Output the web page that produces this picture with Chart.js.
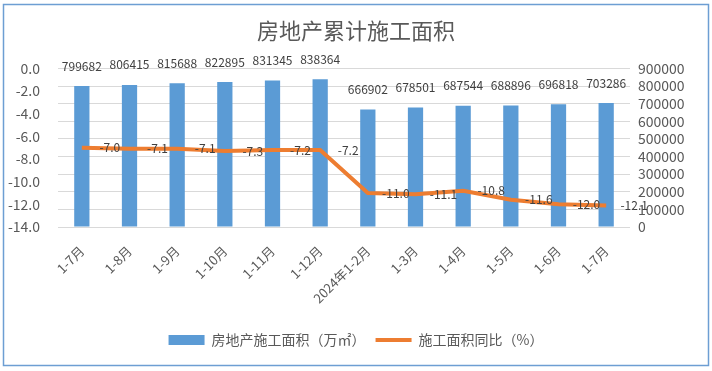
<!DOCTYPE html>
<html>
<head>
<meta charset="utf-8">
<script src="https://cdn.jsdelivr.net/npm/chart.js@4/dist/chart.umd.min.js"></script>
<style>
  html, body { margin: 0; padding: 0; background: #fff; }
  #wrap { width: 712px; height: 371px; }
</style>
</head>
<body>
<div id="wrap"><canvas id="grafico" width="712" height="371"></canvas></div>
<script>
var categorias = ["1-7月", "1-8月", "1-9月", "1-10月", "1-11月", "1-12月", "2024年1-2月", "1-3月", "1-4月", "1-5月", "1-6月", "1-7月"];
var area = [799682, 806415, 815688, 822895, 831345, 838364, 666902, 678501, 687544, 688896, 696818, 703286];
var tongbi = [-7.0, -7.1, -7.1, -7.3, -7.2, -7.2, -11.0, -11.1, -10.8, -11.6, -12.0, -12.1];
var ticksIzq = [0, -2, -4, -6, -8, -10, -12, -14];
var ticksDer = [0, 100000, 200000, 300000, 400000, 500000, 600000, 700000, 800000, 900000];

var FUENTE = "'Noto Sans CJK SC', 'Noto Sans', sans-serif";
var AZUL = "#5B9BD5";
var NARANJA = "#ED7D31";

// etiquetas de datos y borde exterior
var etiquetas = {
    id: "etiquetas",
    afterDatasetsDraw: function (chart) {
        var ctx = chart.ctx;
        ctx.save();
        ctx.font = "12px " + FUENTE;
        ctx.fillStyle = "#404040";
        ctx.textAlign = "center";
        ctx.textBaseline = "middle";
        var barras = chart.getDatasetMeta(0).data;
        barras.forEach(function (b, i) {
            ctx.fillText(String(area[i]), b.x, b.y - 20);
        });
        var puntos = chart.getDatasetMeta(1).data;
        puntos.forEach(function (p, i) {
            ctx.fillText(tongbi[i].toFixed(1), p.x + 28, p.y);
        });
        ctx.restore();
    },
    afterDraw: function (chart) {
        var ctx = chart.ctx;
        ctx.save();
        ctx.strokeStyle = "#6D9ED3";
        ctx.lineWidth = 1.5;
        ctx.strokeRect(3.5, 4.5, 705, 361);
        ctx.restore();
    }
};

var ctx = document.getElementById("grafico");
var myChart = new Chart(ctx, {
    type: "bar",
    data: {
        labels: categorias,
        datasets: [{
                type: "bar",
                label: "房地产施工面积（万㎡）",
                data: area,
                backgroundColor: AZUL,
                yAxisID: "yDer",
                barPercentage: 0.32,
                categoryPercentage: 1.0,
                order: 2
            }, {
                type: "line",
                label: "施工面积同比（%）",
                data: tongbi,
                borderColor: NARANJA,
                backgroundColor: NARANJA,
                borderWidth: 4,
                pointRadius: 0,
                tension: 0,
                yAxisID: "yIzq",
                order: 1
            }]
    },
    options: {
        responsive: false,
        animation: false,
        layout: { padding: { left: 0, right: 0, top: 0, bottom: 14 } },
        plugins: {
            tooltip: { enabled: false },
            title: {
                display: true,
                text: "房地产累计施工面积",
                color: "#595959",
                font: { family: FUENTE, size: 22, weight: "normal" },
                padding: { top: 17, bottom: 25 }
            },
            legend: {
                position: "bottom",
                labels: {
                    color: "#595959",
                    font: { family: FUENTE, size: 14 },
                    usePointStyle: true,
                    pointStyleWidth: 36,
                    boxHeight: 10,
                    padding: 10,
                    generateLabels: function (chart) {
                        return [{
                                text: "房地产施工面积（万㎡）",
                                fillStyle: AZUL,
                                strokeStyle: AZUL,
                                lineWidth: 0,
                                pointStyle: "rect",
                                fontColor: "#595959",
                                datasetIndex: 0
                            }, {
                                text: "施工面积同比（%）",
                                fillStyle: NARANJA,
                                strokeStyle: NARANJA,
                                lineWidth: 4,
                                pointStyle: "line",
                                fontColor: "#595959",
                                datasetIndex: 1
                            }];
                    }
                }
            }
        },
        scales: {
            x: {
                grid: { display: false },
                border: { display: false },
                ticks: {
                    color: "#595959",
                    font: { family: FUENTE, size: 13 },
                    minRotation: 45,
                    maxRotation: 45,
                    padding: 8,
                    autoSkip: false
                },
                afterFit: function (s) { s.height = 96; }
            },
            yIzq: {
                position: "left",
                min: -14,
                max: 0,
                grid: { display: false },
                border: { display: false },
                afterBuildTicks: function (s) {
                    s.ticks = ticksIzq.map(function (v) { return { value: v }; });
                },
                ticks: {
                    color: "#595959",
                    font: { family: FUENTE, size: 14 },
                    padding: 10,
                    autoSkip: false,
                    callback: function (v) { return Number(v).toFixed(1); }
                },
                afterFit: function (s) { s.width = 58; }
            },
            yDer: {
                position: "right",
                min: 0,
                max: 900000,
                grid: { color: "#D9D9D9", drawTicks: false },
                border: { display: false },
                afterBuildTicks: function (s) {
                    s.ticks = ticksDer.map(function (v) { return { value: v }; });
                },
                ticks: {
                    color: "#595959",
                    font: { family: FUENTE, size: 14 },
                    padding: 8,
                    autoSkip: false,
                    callback: function (v) { return String(v); }
                },
                afterFit: function (s) { s.width = 82; }
            }
        }
    },
    plugins: [etiquetas]
});
</script>
</body>
</html>
